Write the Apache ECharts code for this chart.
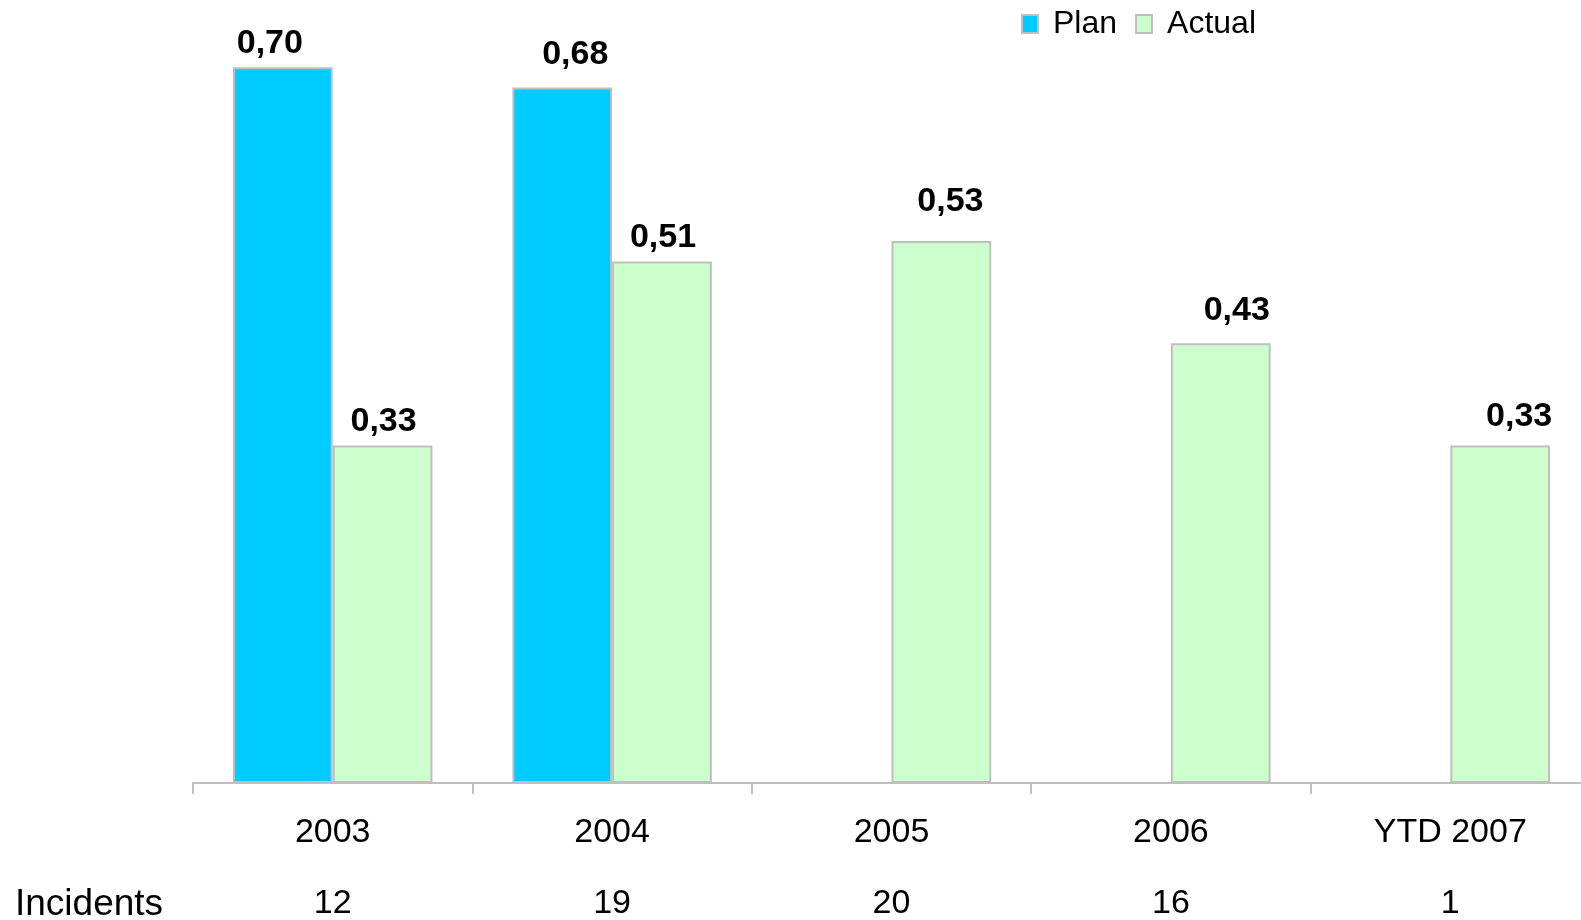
<!DOCTYPE html>
<html>
<head>
<meta charset="utf-8">
<script src="https://cdn.jsdelivr.net/npm/echarts@6/dist/echarts.min.js"></script>
<style>
  html, body { margin: 0; padding: 0; background: #ffffff; }
  #chart { width: 1581px; height: 920px; }
</style>
</head>
<body>
<div id="chart"></div>
<script>
// Chart data
const categories = ['2003', '2004', '2005', '2006', 'YTD 2007'];
const planValues = [0.70, 0.68, null, null, null];
const actualValues = [0.33, 0.51, 0.53, 0.43, 0.33];
const incidents = ['12', '19', '20', '16', '1'];

// Hand-placed label nudges [dx, dy] in pixels
const planLabelNudge = [[-13, 0], [13, -9], [0, 0], [0, 0], [0, 0]];
const actualLabelNudge = [[1, 0], [1, 0], [9, -15], [16, -9], [19, -5]];

const FONT = "'Liberation Sans', Arial, sans-serif";
const fmt = p => p.value.toFixed(2).replace('.', ',');

function buildData(values, nudges) {
  return values.map((v, i) => ({
    value: v,
    label: { offset: nudges[i] }
  }));
}

const barLabel = {
  show: true,
  position: 'top',
  distance: 7,
  formatter: fmt,
  fontFamily: FONT,
  fontSize: 34,
  fontWeight: 'bold',
  color: '#000000'
};

const chart = echarts.init(document.getElementById('chart'), null, { renderer: 'canvas' });

chart.setOption({
  backgroundColor: '#ffffff',
  animation: false,
  textStyle: { fontFamily: FONT },
  legend: {
    data: ['Plan', 'Actual'],
    icon: 'rect',
    left: 1016,
    top: 3,
    itemWidth: 16,
    itemHeight: 18,
    itemGap: 18,
    itemStyle: { borderColor: '#BFBFBF', borderWidth: 2 },
    textStyle: { fontFamily: FONT, fontSize: 32, color: '#000000', padding: [0, 0, 0, 10] }
  },
  // The plot runs slightly past the right edge of the canvas
  grid: { left: 193, width: 1397, top: 16, bottom: 137, containLabel: false, outerBoundsMode: 'none' },
  xAxis: [
    {
      type: 'category',
      data: categories,
      position: 'bottom',
      axisLine: { show: true, lineStyle: { color: '#BFBFBF', width: 2 } },
      axisTick: { show: true, length: 11, lineStyle: { color: '#BFBFBF', width: 2 } },
      axisLabel: { fontFamily: FONT, fontSize: 34, color: '#000000', margin: 33 },
      splitLine: { show: false }
    },
    {
      type: 'category',
      data: incidents,
      position: 'bottom',
      offset: 73,
      axisLine: { show: false },
      axisTick: { show: false },
      axisLabel: { fontFamily: FONT, fontSize: 34, color: '#000000', margin: 31 },
      splitLine: { show: false }
    }
  ],
  yAxis: {
    type: 'value',
    min: 0,
    max: 0.75,
    show: false,
    splitLine: { show: false }
  },
  graphic: [
    {
      type: 'text',
      left: 15,
      top: 886,
      style: { text: 'Incidents', font: '37px ' + FONT, fill: '#000000' }
    }
  ],
  series: [
    {
      name: 'Plan',
      type: 'bar',
      xAxisIndex: 0,
      data: buildData(planValues, planLabelNudge),
      barGap: '0%',
      barCategoryGap: '28.6%',
      itemStyle: { color: '#00CCFF', borderColor: '#BFBFBF', borderWidth: 2 },
      label: barLabel
    },
    {
      name: 'Actual',
      type: 'bar',
      xAxisIndex: 0,
      data: buildData(actualValues, actualLabelNudge),
      barGap: '0%',
      barCategoryGap: '28.6%',
      itemStyle: { color: '#CCFFCC', borderColor: '#BFBFBF', borderWidth: 2 },
      label: barLabel
    }
  ]
});
</script>
</body>
</html>
